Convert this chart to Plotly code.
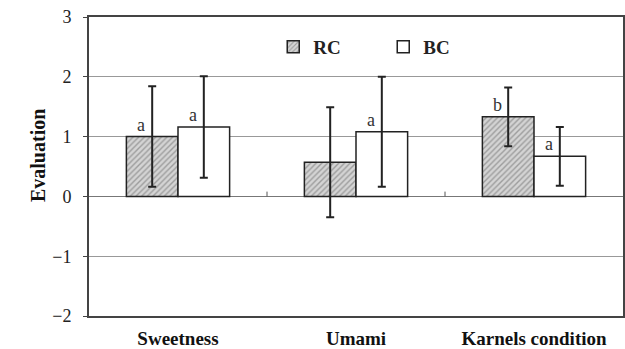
import plotly.graph_objects as go

categories = ["Sweetness", "Umami", "Karnels condition"]
rc_values = [1.00, 0.57, 1.33]
rc_errors = [0.84, 0.92, 0.49]
bc_values = [1.16, 1.08, 0.67]
bc_errors = [0.85, 0.92, 0.49]
rc_letters = ["a", "", "b"]
bc_letters = ["a", "a", "a"]
y_ticks = [-2, -1, 0, 1, 2, 3]

FONT = "Liberation Serif"

fig = go.Figure()
fig.add_trace(go.Bar(
    name="RC", x=categories, y=rc_values,
    marker=dict(color="#c8c8c8", line=dict(color="#222", width=1.5),
                pattern=dict(shape="/", fgcolor="#666", bgcolor="#d4d4d4", size=4, solidity=0.35)),
    error_y=dict(type="data", array=rc_errors, color="#222", thickness=2, width=4),
))
fig.add_trace(go.Bar(
    name="BC", x=categories, y=bc_values,
    marker=dict(color="white", line=dict(color="#222", width=1.5)),
    error_y=dict(type="data", array=bc_errors, color="#222", thickness=2, width=4),
))

# significance letters
for i, cat in enumerate(categories):
    for letters, vals, off in ((rc_letters, rc_values, -0.145), (bc_letters, bc_values, 0.145)):
        if letters[i]:
            fig.add_annotation(x=i + off, y=vals[i], text=letters[i], showarrow=False,
                               xref="x", yref="y", xshift=-11, yshift=12,
                               font=dict(family=FONT, size=18, color="#333333"))

# y-axis title
fig.add_annotation(text="Evaluation", xref="paper", yref="paper", x=0, y=0.535,
                   xshift=-64, showarrow=False, textangle=-90,
                   font=dict(family=FONT, size=20, color="#111", weight="bold"))

# small category divider ticks on the zero line
for b in (0.5, 1.5):
    fig.add_shape(type="line", xref="x", yref="y", x0=b, x1=b, y0=0, y1=0.08,
                  line=dict(color="#555", width=1))

fig.update_layout(
    width=625, height=349,
    margin=dict(l=89, r=2, t=17, b=33, autoexpand=False),
    paper_bgcolor="white", plot_bgcolor="white",
    barmode="group", bargap=0.42, bargroupgap=0,
    showlegend=True,
    legend=dict(orientation="h", x=0.345, y=0.90, xanchor="left", yanchor="middle",
                font=dict(family=FONT, size=19, color="#222", weight="bold"),
                entrywidth=65, entrywidthmode="pixels", itemwidth=30,
                bgcolor="rgba(0,0,0,0)"),
    font=dict(family=FONT, color="#222"),
)
fig.update_xaxes(
    showline=True, linecolor="#444", linewidth=2, mirror=True, automargin=False,
    ticks="", tickfont=dict(family=FONT, size=19, color="#111", weight="bold"),
    ticklabelstandoff=4, showgrid=False, range=[-0.5, 2.5],
)
fig.update_yaxes(
    range=[-2, 3], tickvals=y_ticks, automargin=False,
    ticktext=[("\u2212" + str(-v)) if v < 0 else str(v) for v in y_ticks],
    showline=True, linecolor="#444", linewidth=2, mirror=True,
    ticks="outside", ticklen=4, tickcolor="#444",
    showgrid=True, gridcolor="#999", gridwidth=1,
    zeroline=True, zerolinecolor="#777", zerolinewidth=1,
    tickfont=dict(family=FONT, size=18, color="#222"),
    ticklabelstandoff=8,
)

fig.write_html("out.html")
